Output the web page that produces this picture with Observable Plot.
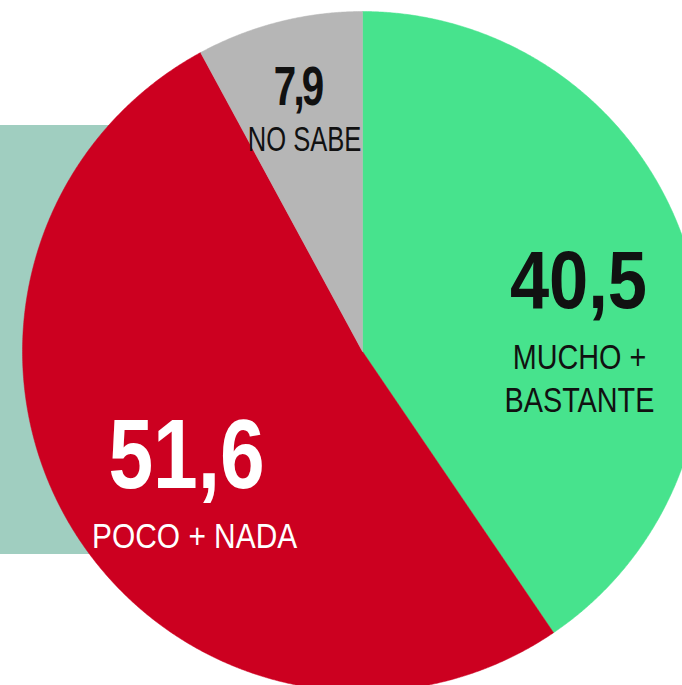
<!DOCTYPE html>
<html><head><meta charset="utf-8">
<script src="https://cdn.jsdelivr.net/npm/d3@7"></script>
<script src="https://cdn.jsdelivr.net/npm/@observablehq/plot@0.6"></script>
<style>
body{margin:0;background:#fff;}
#wrap{position:relative;width:682px;height:685px;overflow:hidden;}
#band{position:absolute;left:0;top:125px;width:200px;height:429px;background:#a0cec0;}
#chart{position:absolute;left:0;top:0;}
#chart svg{background:transparent;}
</style></head><body>
<div id="wrap"><div id="band"></div><div id="chart"></div></div>
<script>
// Data
const categories = ["MUCHO +\nBASTANTE", "POCO + NADA", "NO SABE"];
const values = [40.5, 51.6, 7.9];
const valueLabels = ["40,5", "51,6", "7,9"];
const colors = ["#47e38d", "#cc0020", "#b6b6b6"];
const textColors = ["#111", "#fff", "#111"];

const W = 682, H = 685, CX = 362, CY = 351, R = 340;
const FONT = "'Liberation Sans', Arial, Helvetica, sans-serif";

const table = categories.map((c, i) => ({i, category: c, value: values[i], label: valueLabels[i], color: colors[i], text: textColors[i]}));
const arcs = d3.pie().sort(null).value(d => d.value)(table);

// slice outlines in unit-circle coordinates (angle clockwise from top)
const pts = [];
arcs.forEach(a => {
  const n = Math.max(2, Math.ceil((a.endAngle - a.startAngle) / 0.005));
  pts.push({i: a.data.i, x: 0, y: 0});
  for (let k = 0; k <= n; k++) {
    const t = a.startAngle + (a.endAngle - a.startAngle) * k / n;
    pts.push({i: a.data.i, x: Math.sin(t), y: Math.cos(t)});
  }
  pts.push({i: a.data.i, x: 0, y: 0});
});

// label anchors at mid-angle
const radial = [0.64, 0.64, 0.73];
const anchors = arcs.map(a => {
  const m = (a.startAngle + a.endAngle) / 2, r = radial[a.data.i];
  return {...a.data, x: r * Math.sin(m), y: r * Math.cos(m)};
});
const numOff = [[8, 20], [10, 23], [-4, -6]];
const numSize = [81, 98, 56];
const numSqueeze = [0.87, 0.82, 0.72];
const numTrack = [0, 0, -4];
const labOff = [[9, 52], [18, 53.6], [3, 11]];
const labSize = [36, 36, 35];
const labSqueeze = [0.8, 0.83, 0.73];

const marks = [
  Plot.line(pts, {x: "x", y: "y", z: "i", fill: d => colors[d.i], stroke: d => colors[d.i], strokeWidth: 0.5, curve: "linear"})
];
const squeezes = [], tracks = [];
anchors.forEach(d => {
  marks.push(Plot.text([d], {x: "x", y: "y", text: "label", fill: d.text, fontSize: numSize[d.i], fontWeight: 700,
    fontFamily: FONT, textAnchor: "middle", lineAnchor: "bottom", dx: numOff[d.i][0], dy: numOff[d.i][1]}));
  squeezes.push(numSqueeze[d.i]); tracks.push(numTrack[d.i]);
  marks.push(Plot.text([d], {x: "x", y: "y", text: "category", fill: d.text, fontSize: labSize[d.i], fontWeight: 400,
    fontFamily: FONT, textAnchor: "middle", lineAnchor: "top", lineHeight: 1.17, dx: labOff[d.i][0], dy: labOff[d.i][1]}));
  squeezes.push(labSqueeze[d.i]); tracks.push(0);
});

const chart = Plot.plot({
  width: W, height: H, margin: 0,
  x: {domain: [-CX / R, (W - CX) / R], range: [0, W], axis: null},
  y: {domain: [-(H - CY) / R, CY / R], range: [H, 0], axis: null},
  style: {background: "transparent", overflow: "hidden"},
  marks
});
document.getElementById("chart").appendChild(chart);

// condensed type: compress each label horizontally around its anchor
const groups = chart.querySelectorAll('g[aria-label="text"]');
groups.forEach((g, k) => {
  g.querySelectorAll("text").forEach(t => {
    const tr = t.getAttribute("transform") || "";
    t.setAttribute("transform", tr + ` scale(${squeezes[k]},1)`);
    if (tracks[k]) t.style.letterSpacing = tracks[k] + "px";
  });
});
</script>
</body></html>
